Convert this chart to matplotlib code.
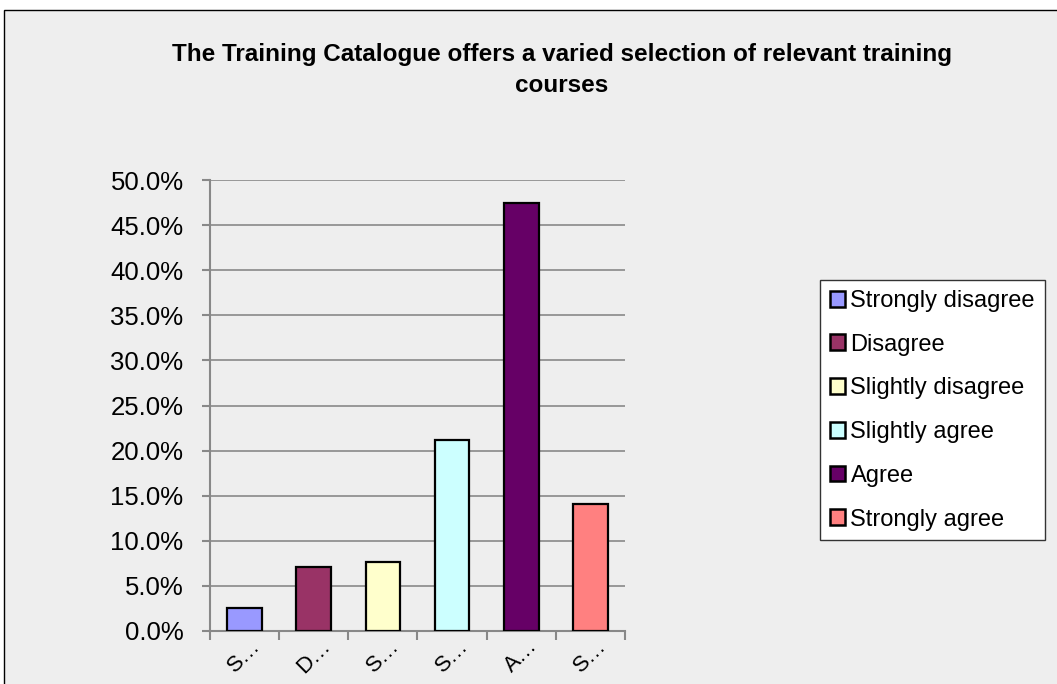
import matplotlib
matplotlib.use("Agg")
import matplotlib.pyplot as plt
from matplotlib.patches import Patch, Rectangle
from matplotlib.ticker import FuncFormatter

categories = ["Strongly disagree", "Disagree", "Slightly disagree",
              "Slightly agree", "Agree", "Strongly agree"]
tick_labels = ["S…", "D…", "S…", "S…", "A…", "S…"]
values = [2.6, 7.1, 7.7, 21.2, 47.4, 14.1]
colors = ["#9999FF", "#993366", "#FFFFCC", "#CCFFFF", "#660066", "#FF8080"]

plt.rcParams["font.family"] = ["Liberation Sans", "DejaVu Sans"]

fig = plt.figure(figsize=(10.57, 6.84), dpi=100, facecolor="white")
# chart area background with border, runs off the right and bottom edge
fig.patches.append(Rectangle((4 / 1057, -0.1), 1.2, (684 - 10) / 684 + 0.1,
                             transform=fig.transFigure, facecolor="#EEEEEE",
                             edgecolor="black", linewidth=1, zorder=-5))

ax = fig.add_axes([210 / 1057, 53 / 684, 415 / 1057, 451 / 684])
ax.set_facecolor("none")

x = range(len(values))
ax.bar(x, values, width=0.5, color=colors, edgecolor="black", linewidth=1.6,
       zorder=3)

ax.set_xlim(-0.5, len(values) - 0.5)
ax.set_ylim(0, 50)
ax.set_yticks(range(0, 51, 5))
ax.yaxis.set_major_formatter(FuncFormatter(lambda v, p: f"{v:.1f}%"))
ax.set_xticks([i - 0.5 for i in range(len(values) + 1)])
ax.set_xticklabels([])
ax.set_xticks(list(x), minor=True)
ax.set_xticklabels(tick_labels, minor=True, rotation=45, ha="center",
                   va="top", fontsize=16)
ax.tick_params(axis="x", which="minor", length=0, pad=3)
ax.tick_params(axis="x", which="major", length=6.5, width=1.5, color="#888888")
ax.tick_params(axis="y", length=6, width=1.5, color="#888888", labelsize=18.5,
               pad=13)

ax.grid(axis="y", color="#888888", linewidth=1.2, zorder=0)
for side in ["top", "right"]:
    ax.spines[side].set_visible(False)
for side in ["left", "bottom"]:
    ax.spines[side].set_color("#888888")
    ax.spines[side].set_linewidth(1.5)

fig.text(562 / 1057, 1 - 70 / 684,
         "The Training Catalogue offers a varied selection of relevant training\ncourses",
         ha="center", va="center", fontsize=17.5, fontweight="bold",
         linespacing=1.4)

handles = [Patch(facecolor=c, edgecolor="black", linewidth=1.8) for c in colors]
leg = fig.legend(handles, categories, loc="upper left",
                 bbox_to_anchor=(820 / 1057, 1 - 280 / 684), fontsize=17,
                 frameon=True, fancybox=False, edgecolor="#333333",
                 handlelength=0.65, handleheight=0.65, handletextpad=0.22,
                 labelspacing=0.92, borderpad=0.42, borderaxespad=0)
leg.get_frame().set_linewidth(1)
leg.get_frame().set_facecolor("white")
leg.get_frame().set_alpha(1)

fig.savefig("out.png", dpi=100, facecolor=fig.get_facecolor())
